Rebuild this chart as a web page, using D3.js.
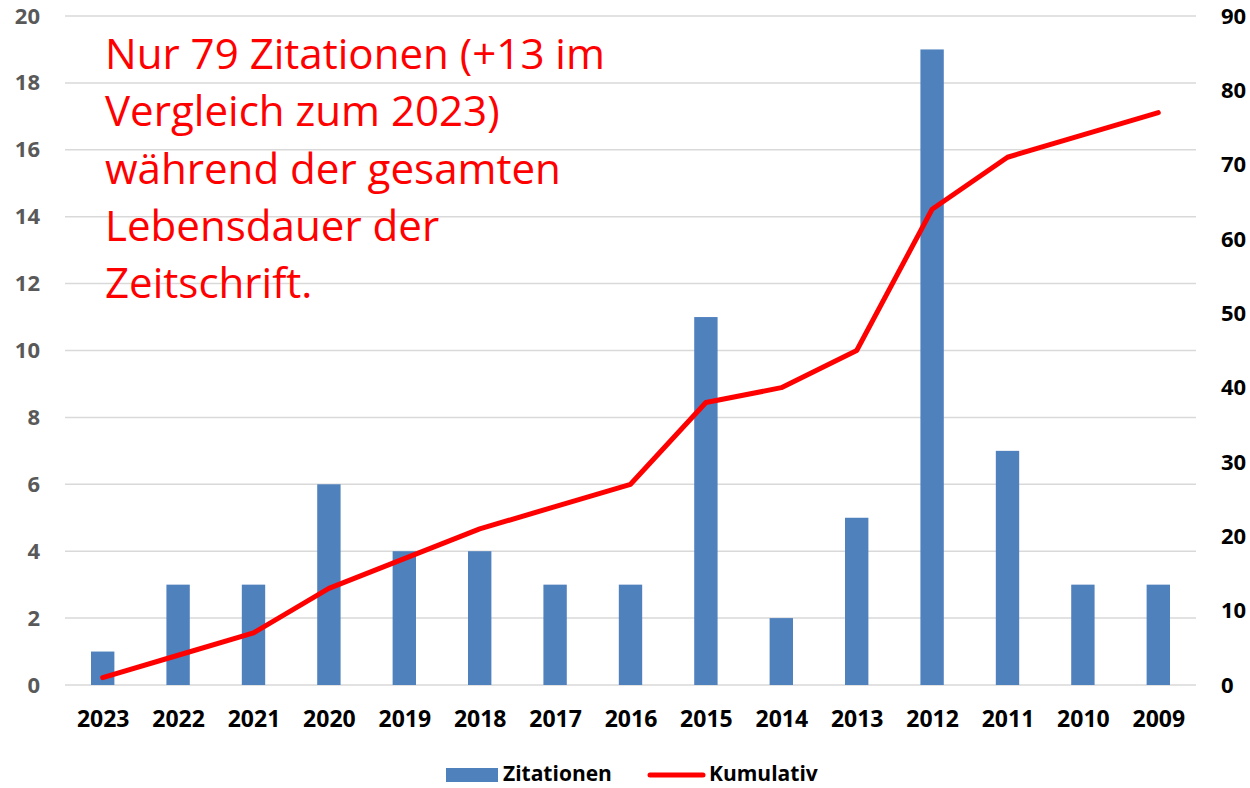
<!DOCTYPE html>
<html>
<head>
<meta charset="utf-8">
<script src="https://cdn.jsdelivr.net/npm/d3@7"></script>
<style>
  body { margin: 0; background: #fff; }
  svg { display: block; font-family: "Open Sans", "Noto Sans", sans-serif; }
</style>
</head>
<body>
<div id="vis"></div>
<script>
const years = ["2023", "2022", "2021", "2020", "2019", "2018", "2017", "2016", "2015", "2014", "2013", "2012", "2011", "2010", "2009"];
const zitationen = [1, 3, 3, 6, 4, 4, 3, 3, 11, 2, 5, 19, 7, 3, 3];
const kumulativ = [1, 4, 7, 13, 17, 21, 24, 27, 38, 40, 45, 64, 71, 74, 77];
const leftTicks = [0, 2, 4, 6, 8, 10, 12, 14, 16, 18, 20];
const rightTicks = [0, 10, 20, 30, 40, 50, 60, 70, 80, 90];
const noteLines = [
  "Nur 79 Zitationen (+13 im",
  "Vergleich zum 2023)",
  "während der gesamten",
  "Lebensdauer der",
  "Zeitschrift."
];

function createVis() {
  const width = 1250;
  const height = 788;
  const left = 65, right = 1196, top = 16, bottom = 685;

  const svg = d3.select("#vis")
    .append("svg")
    .attr("width", width)
    .attr("height", height)
    .attr("viewBox", [0, 0, width, height]);

  const x = d3.scaleBand()
    .domain(years)
    .range([left, right])
    .paddingInner(0.69)
    .paddingOuter(0.345);

  const xc = d3.scalePoint()
    .domain(years)
    .range([left, right])
    .padding(0.5);

  const y = d3.scaleLinear().domain([0, 20]).range([bottom, top]);
  const y2 = d3.scaleLinear().domain([0, 90]).range([bottom, top]);

  // gridlines
  svg.append("g")
    .selectAll("line")
    .data(leftTicks)
    .join("line")
    .attr("x1", left)
    .attr("x2", right)
    .attr("y1", d => y(d))
    .attr("y2", d => y(d))
    .attr("stroke", "#d9d9d9")
    .attr("stroke-width", 1.5);

  // left axis
  const yAxis = svg.append("g")
    .attr("transform", `translate(${left},0)`)
    .call(d3.axisLeft(y).tickValues(leftTicks).tickSize(0).tickPadding(25));
  yAxis.select(".domain").remove();
  yAxis.selectAll("text")
    .attr("fill", "#595959")
    .attr("font-size", 22)
    .attr("font-weight", "bold")
    .attr("font-family", "Open Sans");

  // right axis
  const y2Axis = svg.append("g")
    .attr("transform", `translate(${right},0)`)
    .call(d3.axisRight(y2).tickValues(rightTicks).tickSize(0).tickPadding(25));
  y2Axis.select(".domain").remove();
  y2Axis.selectAll("text")
    .attr("fill", "#000")
    .attr("font-size", 22)
    .attr("font-weight", "bold")
    .attr("font-family", "Open Sans");

  // x axis
  const xAxis = svg.append("g")
    .attr("transform", `translate(0,${bottom})`)
    .call(d3.axisBottom(xc).tickSize(0).tickPadding(26));
  xAxis.select(".domain").remove();
  xAxis.selectAll("text")
    .attr("fill", "#000")
    .attr("font-size", 23)
    .attr("font-weight", "bold")
    .attr("font-family", "Open Sans");

  // bars
  svg.append("g")
    .selectAll("rect")
    .data(zitationen)
    .join("rect")
    .attr("x", (d, i) => x(years[i]))
    .attr("y", d => y(d))
    .attr("width", x.bandwidth())
    .attr("height", d => y(0) - y(d))
    .attr("fill", "#4f81bd");

  // cumulative line
  const line = d3.line()
    .x((d, i) => xc(years[i]))
    .y(d => y2(d));

  svg.append("path")
    .datum(kumulativ)
    .attr("d", line)
    .attr("fill", "none")
    .attr("stroke", "#ff0000")
    .attr("stroke-width", 5)
    .attr("stroke-linejoin", "round")
    .attr("stroke-linecap", "round");

  // annotation
  const note = svg.append("g")
    .attr("fill", "#ff0000")
    .attr("font-family", "Open Sans");
  const noteText = note.selectAll("text")
    .data(noteLines)
    .join("text")
    .attr("x", 105)
    .attr("y", (d, i) => 69 + i * 57.3)
    .attr("font-size", 40)
    .text(d => d);
  // fit first line to ~500px like the original
  const w0 = noteText.node().getComputedTextLength();
  noteText.attr("font-size", 40 * 500 / w0);

  // legend
  const legend = svg.append("g").attr("font-family", "Open Sans")
    .attr("font-weight", "bold").attr("font-size", 21);
  legend.append("rect")
    .attr("x", 446).attr("y", 768).attr("width", 52).attr("height", 14)
    .attr("fill", "#4f81bd");
  legend.append("text")
    .attr("x", 503).attr("y", 781).text("Zitationen");
  legend.append("line")
    .attr("x1", 650).attr("x2", 703).attr("y1", 775).attr("y2", 775)
    .attr("stroke", "#ff0000").attr("stroke-width", 5)
    .attr("stroke-linecap", "round");
  legend.append("text")
    .attr("x", 709).attr("y", 781).text("Kumulativ");
}

window.addEventListener("load", createVis);
</script>
</body>
</html>
